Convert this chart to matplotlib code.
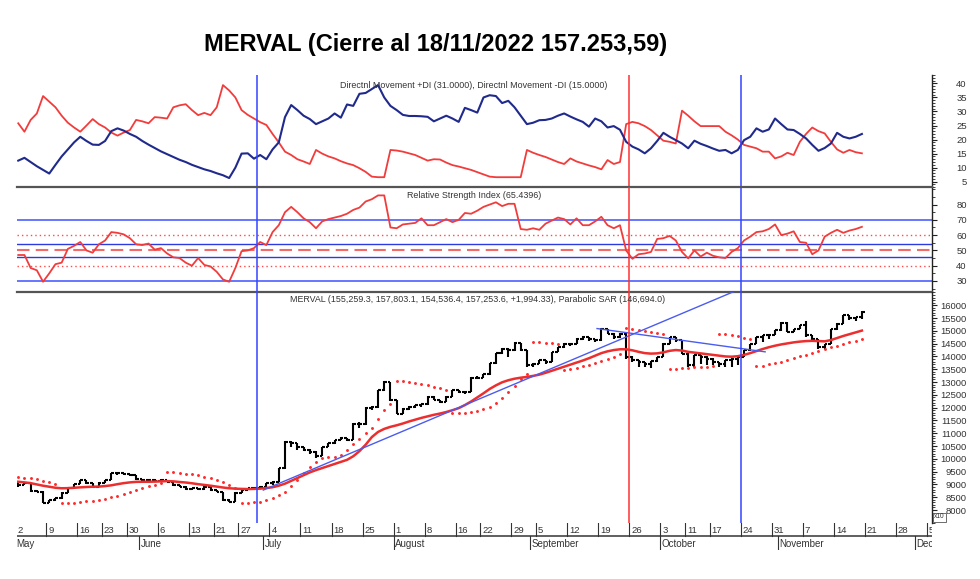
import matplotlib
matplotlib.use('Agg')
import matplotlib.pyplot as plt
from matplotlib.ticker import MultipleLocator, FixedLocator
import numpy as np
import pandas as pd

# ---------------- data ----------------
holidays = ['2022-05-18', '2022-05-25', '2022-06-17', '2022-06-20',
            '2022-08-15', '2022-09-02', '2022-10-07', '2022-10-10']
first_day, axis_end = '2022-05-02', '2022-12-07'

opens = [9050, 8975, 9040, 8750, 8715, 8290, 8390, 8455, 8675, 8845,
         9015, 9170, 9040, 8910, 9065, 9170, 9430, 9430, 9405, 9365,
         9195, 9170, 9170, 9145, 9170, 9105, 8975, 8910, 8805, 8845,
         8805, 8910, 8780, 8715, 8390, 8325, 8675, 8780, 8845, 8845,
         8910, 9040, 9105, 9625, 10665, 10600, 10450, 10340, 10275, 10105,
         10470, 10600, 10730, 10795, 10755, 11380, 11355, 12005, 12030, 12680,
         13005, 12290, 11770, 11965, 12030, 12095, 12135, 12420, 12290, 12225,
         12420, 12680, 12615, 12615, 13175, 13175, 13305, 13745, 14135, 14305,
         14240, 14525, 14240, 13655, 13720, 13850, 13785, 14175, 14370, 14500,
         14500, 14695, 14760, 14695, 14630, 15085, 14890, 14760, 14890, 13980,
         13850, 13785, 13720, 13825, 13980, 14500, 14760, 14630, 14110, 13655,
         14045, 13980, 13915, 13785, 13720, 13850, 13915, 13980, 14240, 14500,
         14760, 14825, 14850, 15020, 15320, 14955, 15085, 15215, 14825, 14695,
         14370, 14500, 15060, 15280, 15605, 15500, 15526]
highs = [9105, 9070, 9060, 8780, 8740, 8400, 8480, 8700, 8850, 9030,
         9190, 9180, 9060, 9080, 9190, 9440, 9460, 9450, 9420, 9380,
         9230, 9220, 9200, 9200, 9180, 9120, 8990, 8930, 8870, 8860,
         8930, 8920, 8790, 8720, 8420, 8690, 8800, 8860, 8880, 8930,
         9060, 9120, 9640, 10680, 10700, 10620, 10480, 10380, 10290, 10480,
         10620, 10750, 10850, 10830, 11400, 11420, 12020, 12080, 12700, 13050,
         13020, 12300, 12000, 12060, 12120, 12160, 12440, 12450, 12300, 12440,
         12700, 12700, 12660, 13180, 13250, 13320, 13750, 14140, 14340, 14320,
         14560, 14530, 14250, 13760, 13880, 13860, 14180, 14380, 14510, 14530,
         14710, 14780, 14770, 14700, 15100, 15090, 14900, 14900, 14900, 14000,
         13860, 13790, 13830, 13990, 14510, 14770, 14770, 14640, 14120, 14050,
         14060, 14000, 13930, 13800, 13860, 13920, 14000, 14250, 14500, 14770,
         14830, 14860, 15030, 15330, 15330, 15090, 15220, 15400, 14830, 14700,
         14500, 15060, 15290, 15610, 15620, 15540, 15780]
lows = [8900, 8960, 8720, 8690, 8260, 8260, 8350, 8450, 8660, 8840,
        9000, 9010, 8900, 8900, 9060, 9160, 9380, 9370, 9330, 9170,
        9140, 9130, 9110, 9120, 9080, 8950, 8880, 8790, 8790, 8780,
        8800, 8760, 8690, 8360, 8300, 8310, 8660, 8770, 8800, 8830,
        8890, 8990, 9100, 9620, 10450, 10330, 10300, 10180, 10050, 10100,
        10460, 10580, 10720, 10700, 10740, 11200, 11340, 11900, 12000, 12650,
        12270, 11750, 11760, 11900, 11980, 12040, 12120, 12280, 12180, 12210,
        12400, 12580, 12540, 12600, 13100, 13140, 13290, 13720, 14100, 13980,
        14230, 14200, 13590, 13590, 13700, 13720, 13770, 14160, 14340, 14400,
        14480, 14650, 14620, 14580, 14620, 14880, 14700, 14740, 13900, 13780,
        13580, 13590, 13530, 13790, 13970, 14490, 14560, 14100, 13600, 13600,
        13700, 13650, 13650, 13590, 13590, 13590, 13650, 13970, 14230, 14490,
        14560, 14700, 14840, 15010, 14950, 14940, 15080, 14750, 14630, 14300,
        14300, 14480, 15040, 15270, 15410, 15400, 15454]
closes = [8975, 9040, 8750, 8715, 8290, 8390, 8455, 8675, 8845, 9015,
          9170, 9040, 8910, 9065, 9170, 9430, 9430, 9405, 9365, 9195,
          9170, 9170, 9145, 9170, 9105, 8975, 8910, 8805, 8845, 8805,
          8910, 8780, 8715, 8390, 8325, 8675, 8780, 8845, 8845, 8910,
          9040, 9105, 9625, 10665, 10600, 10450, 10340, 10275, 10105, 10470,
          10600, 10730, 10795, 10755, 11380, 11355, 12005, 12030, 12680, 13005,
          12290, 11770, 11965, 12030, 12095, 12135, 12420, 12290, 12225, 12420,
          12680, 12615, 12615, 13175, 13175, 13305, 13745, 14135, 14305, 14240,
          14525, 14240, 13655, 13720, 13850, 13785, 14175, 14370, 14500, 14500,
          14695, 14760, 14695, 14630, 15085, 14890, 14760, 14890, 13980, 13850,
          13785, 13720, 13825, 13980, 14500, 14760, 14630, 14110, 13655, 14045,
          13980, 13915, 13785, 13720, 13850, 13915, 13980, 14240, 14500, 14760,
          14825, 14850, 15020, 15320, 14955, 15085, 15215, 14825, 14695, 14370,
          14500, 15060, 15280, 15605, 15500, 15526, 15725]
sar = [9275, 9260, 9235, 9195, 9145, 9090, 9015, 8260, 8270, 8290,
       8315, 8340, 8365, 8400, 8440, 8490, 8555, 8620, 8700, 8780,
       8860, 8935, 8990, 9040, 9495, 9480, 9455, 9425, 9390, 9350,
       9300, 9240, 9170, 9080, 8970, 8850, 8290, 8290, 8300, 8330,
       8390, 8455, 8580, 8720, 8940, 9170, 9430, 9690, 9860, 10040,
       10070, 10090, 10140, 10340, 10570, 10780, 10990, 11185, 11575, 11900,
       12150, 13050, 13040, 13010, 12970, 12920, 12870, 12810, 12750, 12690,
       11780, 11790, 11800, 11830, 11880, 11940, 12030, 12180, 12380, 12600,
       12850, 13100, 13300, 14560, 14550, 14530, 14515, 14500, 13470, 13500,
       13550, 13610, 13680, 13750, 13820, 13900, 13990, 14080, 15100, 15060,
       15020, 14990, 14960, 14920, 14880, 13500, 13520, 13540, 13560, 13580,
       13590, 13600, 13610, 14880, 14860, 14830, 14790, 14740, 14680, 13610,
       13640, 13690, 13740, 13800, 13870, 13940, 14000, 14060, 14120, 14200,
       14280, 14360, 14420, 14480, 14550, 14610, 14669]
ma = [9105, 9080, 9050, 9000, 8950, 8910, 8870, 8850, 8855, 8870,
      8885, 8900, 8910, 8915, 8935, 8965, 9010, 9050, 9080, 9100,
      9105, 9105, 9110, 9120, 9130, 9120, 9095, 9075, 9045, 9010,
      8980, 8950, 8915, 8880, 8850, 8835, 8825, 8820, 8825, 8835,
      8860, 8890, 8950, 9030, 9140, 9250, 9360, 9470, 9560, 9640,
      9720, 9800, 9880, 9960, 10100, 10300, 10550, 10850, 11050, 11170,
      11250, 11310, 11380, 11460, 11530, 11600, 11660, 11720, 11770, 11830,
      11900, 11980, 12100, 12240, 12400, 12560, 12730, 12870, 12990, 13070,
      13130, 13170, 13200, 13240, 13290, 13360, 13440, 13520, 13600, 13680,
      13760, 13840, 13930, 14030, 14130, 14200, 14250, 14280, 14280, 14240,
      14180, 14130, 14110, 14120, 14160, 14220, 14250, 14230, 14180, 14150,
      14120, 14090, 14060, 14030, 14000, 13990, 14010, 14060, 14130, 14210,
      14290, 14360, 14420, 14470, 14510, 14550, 14580, 14600, 14610, 14600,
      14590, 14640, 14720, 14800, 14870, 14940, 15010]
rsi = [47, 47, 38.5, 37, 29.5, 35, 41, 42, 51, 53,
       55.5, 50, 48.5, 54, 56.5, 62, 61.5, 60.5, 58, 54,
       53.5, 54.5, 50.5, 51.5, 48, 45.5, 45, 42, 40, 45,
       40.5, 39.5, 36, 31, 29.5, 38.5, 49.5, 50, 51.5, 55.5,
       53.5, 62, 66.5, 75, 78.5, 75, 71, 68.5, 64.5, 69,
       70.5, 71.5, 72.5, 74, 76.5, 78, 82, 83.5, 86, 86,
       65, 64.5, 67, 67.5, 68, 71, 66.5, 66.5, 68.5, 70.5,
       68.5, 70, 74.5, 74, 76, 78.5, 80, 81.5, 79, 80.5,
       80.5, 64, 63.5, 64.5, 63.5, 67.5, 69.5, 71.5, 70.5, 67,
       71, 66.5, 66.5, 69, 72, 66.5, 64.5, 66.5, 50, 44.5,
       47.5, 48, 49, 57.5, 58, 59.5, 56.5, 49, 44.8, 50,
       46, 48.5, 46.5, 45.5, 45, 49, 51.5, 56.5, 59, 62,
       62.5, 64, 67, 60, 61, 62.5, 55.5, 55, 47.5, 50,
       59, 61.5, 63.5, 61.5, 63, 64, 65.44]
di_plus = [12.5, 13.5, 12, 10.5, 9.2, 7.9, 11, 14, 16.5, 19,
           21, 19.5, 18.2, 18.1, 19.5, 23, 24, 23.2, 22, 21,
           19.5, 18.2, 17, 15.8, 14.8, 13.8, 12.8, 12, 11, 10.2,
           9.4, 8.8, 8, 7.3, 6.3, 10, 15, 15.1, 13.2, 14.5,
           13, 16.5, 19, 28, 32.3, 30.5, 28.5, 27.3, 25.5, 26.5,
           27.5, 29.3, 27.8, 32.5, 32, 36.3, 36.6, 38, 39.4, 35,
           32, 30.5, 28.8, 28.4, 28.4, 28.3, 28.1, 26.5, 27.5, 28.5,
           27.5, 26.3, 31.3, 30.5, 29.6, 35, 35.8, 35.5, 33, 33.8,
           31.5, 28.5, 25.5, 26, 26.9, 27, 27.5, 28.5, 29.3, 28.2,
           27.2, 26.3, 24.6, 27.5, 26.5, 24.3, 24.8, 23.5, 19.2, 17.5,
           16.5, 15.1, 16.9, 19.5, 22.4, 21, 19.8, 18.6, 16.9, 19.6,
           18.5, 17.7, 16.8, 16, 16.3, 15.1, 16.3, 19.8, 21, 24,
           22.8, 23.6, 27.5, 25.5, 23.6, 23.4, 22, 20.4, 18.1, 16,
           17, 18.6, 22.4, 21, 20.4, 21, 22]
di_minus = [25.8, 22.8, 27, 29.3, 35.5, 33.5, 31.5, 28.5, 26, 24.3,
            22.8, 25, 27.3, 25.5, 24.3, 22.5, 21.4, 22.5, 23.4, 27,
            26.5, 25.8, 28, 27.8, 27.5, 31.5, 32.2, 32.6, 30.5, 28.7,
            29.5, 28.7, 31.5, 39.4, 37.5, 35, 30.5, 28.8, 27.5, 26.2,
            25.2, 22, 19, 15.7, 14.5, 13, 12.2, 11.3, 16.3, 15,
            14, 13.3, 12.3, 11.5, 10.9, 9.8, 8.5, 6.8, 6.6, 6.6,
            16.3, 16.1, 15.7, 15.1, 14.5, 13.5, 12.5, 13, 12.9, 11.8,
            10.9, 10.4, 9.8, 9.2, 8.4, 7.6, 6.8, 6.6, 6.6, 6.6,
            6.6, 6.6, 16.3, 15.3, 14.5, 13.8, 12.9, 12, 11.3, 13.3,
            12.2, 11.5, 10.8, 10.2, 9.4, 12.7, 11.3, 12, 25.5, 26.3,
            25.8, 24.8, 23.4, 21.5, 19.6, 19.2, 18.6, 30.3, 28.5, 26.5,
            24.8, 24.8, 24.8, 24.8, 22.8, 21.5, 20, 18.1, 17.5, 16.9,
            15.7, 15.7, 13.3, 14, 15.3, 14.5, 19.2, 22, 24.3, 23,
            22.2, 19.2, 16.5, 15.3, 16.3, 15.5, 15.1]

week_ticks = ['2022-05-02', '2022-05-09', '2022-05-16', '2022-05-23', '2022-05-30',
              '2022-06-06', '2022-06-13', '2022-06-21', '2022-06-27', '2022-07-04',
              '2022-07-11', '2022-07-18', '2022-07-25', '2022-08-01', '2022-08-08',
              '2022-08-16', '2022-08-22', '2022-08-29', '2022-09-05', '2022-09-12',
              '2022-09-19', '2022-09-26', '2022-10-03', '2022-10-11', '2022-10-17',
              '2022-10-24', '2022-10-31', '2022-11-07', '2022-11-14', '2022-11-21',
              '2022-11-28', '2022-12-05']
month_starts = ['2022-05-02', '2022-06-01', '2022-07-01', '2022-08-01',
                '2022-09-01', '2022-10-03', '2022-11-01', '2022-12-01']
month_labels = ['May', 'June', 'July', 'August', 'September', 'October', 'November', 'Dec']
marker_dates = ['2022-06-30', '2022-09-26', '2022-10-24']
trend_up = ([39.5, 116.5], [8780, 16650])
trend_down = ([93.3, 120.4], [15090, 14180])

title = 'MERVAL (Cierre al 18/11/2022 157.253,59)'
dmi_label = 'Directnl Movement +DI (31.0000), Directnl Movement -DI (15.0000)'
rsi_label = 'Relative Strength Index (65.4396)'
px_label = ('MERVAL (155,259.3, 157,803.1, 154,536.4, 157,253.6, +1,994.33), '
            'Parabolic SAR (146,694.0)')

# ---------------- calendar ----------------
bd = pd.bdate_range(first_day, axis_end)
cal = bd[~bd.isin(pd.to_datetime(holidays))]
pos = {d: i for i, d in enumerate(cal)}
def idx(s):
    return pos[pd.Timestamp(s)]

n = len(closes)
x = np.arange(n)

# ---------------- figure ----------------
W, H = 980, 579
plt.rcParams['font.family'] = ['Liberation Sans', 'DejaVu Sans']
fig = plt.figure(figsize=(W / 100, H / 100), dpi=100)
XL, XR = 17, 932
XLIM = (-0.2, 147.3)

def ax_at(top, bottom):
    return fig.add_axes([XL / W, 1 - bottom / H, (XR - XL) / W, (bottom - top) / H])

ax_dmi = ax_at(75, 187.3)
ax_rsi = ax_at(187.3, 292.3)
ax_px = ax_at(292.3, 523)
ax_dt = ax_at(523, 550)

TXT = '#333333'
for ax in (ax_dmi, ax_rsi, ax_px):
    ax.set_xlim(*XLIM)
    ax.set_xticks([])
    for s in ('left', 'top', 'bottom'):
        ax.spines[s].set_visible(False)
    ax.spines['right'].set_color('#222222')
    ax.spines['right'].set_linewidth(1.0)
    ax.yaxis.tick_right()
    ax.tick_params(axis='y', which='major', direction='out', length=3.5, width=0.8,
                   labelsize=6.8, labelcolor=TXT, pad=21.5, color='#222222')
    ax.tick_params(axis='y', which='minor', direction='out', length=2, width=0.6,
                   color='#222222')
    ax.set_facecolor('none')

# separators between panels
ax_rsi.spines['top'].set_visible(True)
ax_rsi.spines['bottom'].set_visible(True)
for s in ('top', 'bottom'):
    ax_rsi.spines[s].set_color('#555555')
    ax_rsi.spines[s].set_linewidth(1.6)

# vertical marker lines
mcol = ['#3344ff', '#ff3030', '#3344ff']
for d, c in zip(marker_dates, mcol):
    for ax in (ax_dmi, ax_rsi, ax_px):
        ax.axvline(idx(d) - 0.5, color=c, lw=1.1, zorder=5)

# ---- DMI ----
ax_dmi.plot(x, di_minus, color='#f23c3c', lw=1.3, zorder=3)
ax_dmi.plot(x, di_plus, color='#1f2a8c', lw=1.5, zorder=4)
ax_dmi.set_ylim(3.0, 43.0)
ax_dmi.yaxis.set_major_locator(FixedLocator([5, 10, 15, 20, 25, 30, 35, 40]))
ax_dmi.yaxis.set_minor_locator(MultipleLocator(1))
fig.text(474 / W, 1 - 85 / H, dmi_label, ha='center', va='center',
         fontsize=6.4, color=TXT)

# ---- RSI ----
for lvl, c, lw in ((70, '#5b6cff', 1.3), (54, '#2b3be0', 1.0), (46, '#2b3be0', 1.0), (30, '#5b6cff', 1.3)):
    ax_rsi.axhline(lvl, color=c, lw=lw, zorder=1)
for lvl in (60, 40):
    ax_rsi.axhline(lvl, color='#ff4a4a', lw=1.0, ls=(0, (1, 2.2)), zorder=1)
ax_rsi.axhline(50, color='#f26a6a', lw=1.5, ls=(0, (6, 3)), zorder=1)
ax_rsi.plot(x, rsi, color='#f23c3c', lw=1.3, zorder=3)
ax_rsi.set_ylim(22.6, 91.3)
ax_rsi.yaxis.set_major_locator(FixedLocator([30, 40, 50, 60, 70, 80]))
ax_rsi.yaxis.set_minor_locator(MultipleLocator(5))
fig.text(474 / W, 1 - 196 / H, rsi_label, ha='center', va='center',
         fontsize=6.4, color=TXT)

# ---- Price ----
ax_px.vlines(x, lows, highs, color='black', lw=1.5, zorder=3)
ax_px.hlines(opens, x - 0.42, x, color='black', lw=1.5, zorder=3)
ax_px.hlines(closes, x, x + 0.42, color='black', lw=1.5, zorder=3)
ax_px.plot(x, ma, color='#ec2e2e', lw=1.8, zorder=4)
ax_px.plot(x, sar, ls='none', marker='o', ms=2.1, mew=0, color='#ff2a2a', zorder=4)
ax_px.plot(*trend_up, color='#4a5cf0', lw=1.0, zorder=4)
ax_px.plot(*trend_down, color='#4a5cf0', lw=1.0, zorder=4)
ax_px.set_ylim(7493, 16506)
ax_px.yaxis.set_major_locator(MultipleLocator(500))
ax_px.yaxis.set_minor_locator(MultipleLocator(100))
ax_px.set_yticks(np.arange(8000, 16001, 500))
fig.text(290 / W, 1 - 300 / H, px_label, fontsize=6.4, color=TXT, ha='left', va='center')

for ax in (ax_dmi, ax_rsi, ax_px):
    for lab in ax.get_yticklabels():
        lab.set_ha('right')

# x10 marker
fig.text(934 / W, 1 - 517 / H, 'x10', fontsize=4.8, color=TXT, ha='left', va='center',
         bbox=dict(boxstyle='square,pad=0.15', fc='white', ec='#555555', lw=0.6))

# ---- date band ----
ax_dt.set_xlim(*XLIM)
ax_dt.set_ylim(0, 1)
ax_dt.axis('off')
yl = (550 - 536) / 27
ax_dt.axhline(yl, color='#444444', lw=1.2)
for d in week_ticks:
    p = idx(d) - 0.5
    lab = str(pd.Timestamp(d).day)
    ax_dt.plot([p, p], [yl, 1.0], color='#333333', lw=0.8)
    ax_dt.text(p + 0.3, 0.74, lab, fontsize=6.8, color=TXT, ha='left', va='center', clip_on=True)
for d, lab in zip(month_starts, month_labels):
    p = idx(d) - 0.5
    ax_dt.plot([p, p], [0.0, yl], color='#333333', lw=0.8)
    ax_dt.text(p + 0.2, 0.24, lab, fontsize=7.0, color=TXT, ha='left', va='center', clip_on=True)

# title
fig.text(436 / W, 1 - 45 / H, title, fontsize=17, fontweight='bold', color='black',
         ha='center', va='center')

fig.savefig('out.png', dpi=100)
